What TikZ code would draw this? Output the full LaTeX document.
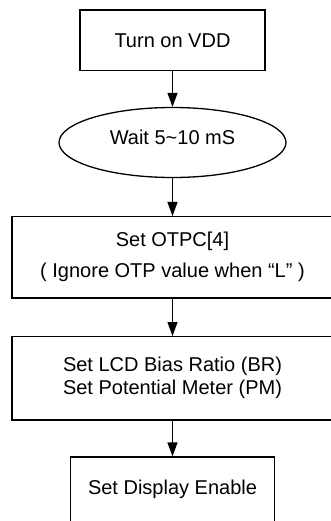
\documentclass[tikz,border=0pt]{standalone}
\usepackage{fontspec}
\setmainfont{Liberation Sans}
\usetikzlibrary{shapes.geometric,arrows.meta}
\begin{document}
\begin{tikzpicture}[x=1pt,y=-1pt,
  every node/.style={line width=1.3pt, inner sep=0pt, align=center,
    font=\fontsize{20}{23}\selectfont},
  stepbox/.style={draw, rectangle},
  waitshape/.style={draw, ellipse},
  arr/.style={draw, line width=1.3pt, -{Triangle[length=14pt,width=10pt]}}
]
\clip (0,0) rectangle (331,521);
\node[stepbox, minimum width=185pt, minimum height=60.7pt] (b1) at (172.5,40.3) {Turn on VDD};
\node[waitshape, minimum width=227pt, minimum height=70pt, text height=14.2pt, text depth=10pt] (e1) at (172.5,142.5) {Wait 5\textasciitilde10 mS};
\node[stepbox, minimum width=321pt, minimum height=81.3pt,
  font=\fontsize{20}{31}\selectfont] (b2) at (172.5,257.3) {Set OTPC[4]\\( Ignore OTP value when “L” )};
\node[stepbox, minimum width=321pt, minimum height=83.3pt] (b3) at (172.5,378.3) {Set LCD Bias Ratio (BR)\\Set Potential Meter (PM)};
\node[stepbox, minimum width=204pt, minimum height=66pt, text height=14.2pt, text depth=6pt] (b4) at (172.5,490) {Set Display Enable};
\draw[arr] (b1) -- (e1);
\draw[arr] (e1) -- (b2);
\draw[arr] (b2) -- (b3);
\draw[arr] (b3) -- (b4);
\end{tikzpicture}
\end{document}
